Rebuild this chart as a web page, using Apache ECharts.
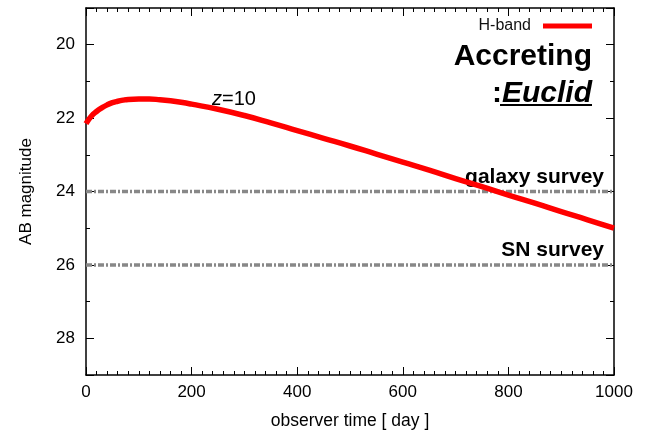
<!DOCTYPE html>
<html>
<head>
<meta charset="utf-8">
<script src="https://cdn.jsdelivr.net/npm/echarts@6/dist/echarts.min.js"></script>
<style>
html,body{margin:0;padding:0;background:#fff;}
#c{width:659px;height:431px;}
</style>
</head>
<body>
<div id="c"></div>
<script>
// observer time [day]
const times = [0,10,20,30,40,50,60,70,80,100,120,140,160,180,200,250,300,350,400,450,500,550,600,650,700,750,800,850,900,950,1000];
// H-band AB magnitude
const hband = [22.15,21.95,21.82,21.72,21.64,21.58,21.54,21.51,21.49,21.48,21.48,21.50,21.53,21.57,21.62,21.76,21.93,22.13,22.34,22.55,22.76,22.98,23.20,23.42,23.65,23.87,24.10,24.32,24.55,24.77,25.00];
// survey limits
const surveyNames = ['galaxy survey','SN survey'];
const surveyLimits = [24, 26];
const timeRange = [0, 1000];
const xTicks = [0,200,400,600,800,1000];
const yTicks = [20,22,24,26,28];

const FONT = 'Liberation Sans, Arial, Helvetica, sans-serif';
const chart = echarts.init(document.getElementById('c'), null, {renderer:'canvas'});

function xAxisBase(pos, showLabel){
  return {
    type:'value', position:pos, min:0, max:1000, interval:200,
    axisLine:{show:true, onZero:false, lineStyle:{color:'#000', width:1.5}},
    axisTick:{show:true, inside:true, length:8, lineStyle:{color:'#000', width:1}},
    minorTick:{show:true, splitNumber:10, length:4, lineStyle:{color:'#000', width:1}},
    splitLine:{show:false}, minorSplitLine:{show:false},
    axisLabel:{show:showLabel, margin:9, color:'#000', fontSize:17, fontFamily:FONT,
      formatter: v => xTicks.indexOf(v) >= 0 ? String(v) : ''}
  };
}
function yAxisBase(pos, showLabel){
  return {
    type:'value', position:pos, min:19, max:29, splitNumber:5, inverse:true,
    axisLine:{show:true, onZero:false, lineStyle:{color:'#000', width:1.5}},
    axisTick:{show:true, inside:true, length:8, lineStyle:{color:'#000', width:1}},
    minorTick:{show:true, splitNumber:2, length:4, lineStyle:{color:'#000', width:1}},
    splitLine:{show:false}, minorSplitLine:{show:false},
    axisLabel:{show:showLabel, margin:11, color:'#000', fontSize:17, fontFamily:FONT,
      showMinLabel:false, showMaxLabel:false,
      formatter: v => yTicks.indexOf(v) >= 0 ? String(v) : ''}
  };
}

const xb = xAxisBase('bottom', true);
xb.name = 'observer time [ day ]';
xb.nameLocation = 'middle';
xb.nameGap = 37;
xb.nameTextStyle = {color:'#000', fontSize:17.5, fontFamily:FONT};
const xt = xAxisBase('top', false);

const yl = yAxisBase('left', true);
yl.name = 'AB magnitude';
yl.nameLocation = 'middle';
yl.nameGap = 51;
yl.nameTextStyle = {color:'#000', fontSize:17, fontFamily:FONT};
const yr = yAxisBase('right', false);

const limitSeries = surveyLimits.map((v, k) => ({
  name: surveyNames[k], type:'line', xAxisIndex:0, yAxisIndex:0,
  data: timeRange.map(t => [t, v]),
  showSymbol:false, symbol:'none', silent:true,
  lineStyle:{color:'#888', width:3.5, type:[6,2,2,2]},
  itemStyle:{color:'#888'},
  z:2
}));

const option = {
  backgroundColor:'#fff',
  animation:false,
  grid:{left:86, right:45, top:8, bottom:56, containLabel:false, outerBoundsMode:'none'},
  legend:{
    show:true, right:67, top:18, padding:0, orient:'horizontal', align:'right',
    itemWidth:49, itemHeight:5, icon:'rect',
    textStyle:{color:'#111', fontSize:16, fontFamily:FONT, padding:[0,7,0,0]},
    data:['H-band']
  },
  xAxis:[xb, xt],
  yAxis:[yl, yr],
  series:[
    {
      name:'H-band', type:'line', xAxisIndex:0, yAxisIndex:0,
      data: times.map((t,i)=>[t, hband[i]]),
      smooth:true, showSymbol:false, symbol:'none',
      lineStyle:{color:'#ff0000', width:5.5},
      itemStyle:{color:'#ff0000'},
      z:3
    }
  ].concat(limitSeries),
  graphic:[
    {type:'text', x:212, y:99, style:{
      text:'{i|z}{n|=10}', textVerticalAlign:'middle', verticalAlign:'middle',
      rich:{i:{fontStyle:'italic', fontSize:20, fontFamily:FONT, fill:'#000', color:'#000'},
            n:{fontSize:20, fontFamily:FONT, fill:'#000', color:'#000'}}
    }},
    {type:'text', x:592, y:57, style:{
      text:'Accreting', align:'right', textAlign:'right', verticalAlign:'middle', textVerticalAlign:'middle',
      font:'bold 30px ' + FONT, fill:'#000'
    }},
    {type:'text', x:592, y:94, style:{
      text:'{c|:}{e|Euclid}', align:'right', textAlign:'right', verticalAlign:'middle', textVerticalAlign:'middle',
      rich:{c:{fontWeight:'bold', fontSize:30, fontFamily:FONT, fill:'#000', color:'#000'},
            e:{fontWeight:'bold', fontStyle:'italic', fontSize:30, fontFamily:FONT, fill:'#000', color:'#000'}}
    }},
    {type:'line', shape:{x1:500, y1:105, x2:592, y2:105}, style:{stroke:'#000', lineWidth:2}},
    {type:'text', x:604, y:177, style:{
      text:surveyNames[0], align:'right', textAlign:'right', verticalAlign:'middle', textVerticalAlign:'middle',
      font:'bold 21px ' + FONT, fill:'#000'
    }},
    {type:'text', x:604, y:250, style:{
      text:surveyNames[1], align:'right', textAlign:'right', verticalAlign:'middle', textVerticalAlign:'middle',
      font:'bold 21px ' + FONT, fill:'#000'
    }}
  ]
};
chart.setOption(option);
</script>
</body>
</html>
